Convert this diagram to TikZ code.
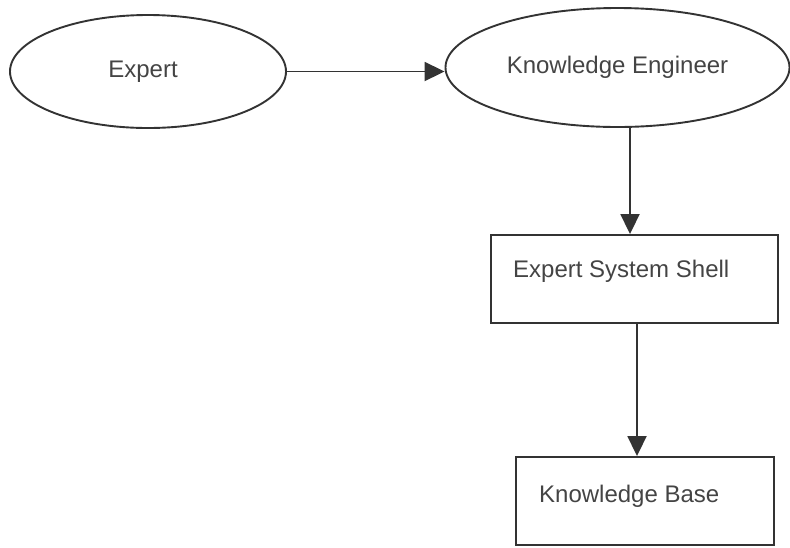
\documentclass[tikz,border=0pt]{standalone}
\usepackage{fontspec}
\setmainfont{Liberation Sans}
\usetikzlibrary{shapes.geometric,arrows.meta}
\definecolor{ink}{HTML}{333333}
\definecolor{txt}{HTML}{444444}
\tikzset{
  shape ell/.style={draw=ink, line width=1.9pt, ellipse, inner sep=0pt, text=txt, font=\fontsize{24}{28}\selectfont},
  boxnode/.style={draw=ink, line width=1.9pt, rectangle, inner sep=0pt},
  lbl/.style={anchor=west, inner sep=0pt, text=txt, font=\fontsize{24}{28}\selectfont},
  arr/.style={draw=ink, line width=1.9pt, -{Triangle[length=20pt,width=19pt]}}
}
\begin{document}
\begin{tikzpicture}[x=1pt,y=-1pt]
\useasboundingbox (0,0) rectangle (790,547);
\node[shape ell, minimum width=276pt, minimum height=113pt] (expert) at (148,71.5) {Expert\hspace*{10pt}};
\node[shape ell, minimum width=344pt, minimum height=119pt] (ke) at (617.5,67.5) {\raisebox{5pt}{Knowledge Engineer}};
\node[boxnode, minimum width=287pt, minimum height=88pt] (ess) at (634.5,279) {};
\node[lbl] (essl) at (513,271) {Expert System Shell};
\node[boxnode, minimum width=258pt, minimum height=88pt] (kb) at (645,501) {};
\node[lbl] (kbl) at (539,496) {Knowledge Base};
\coordinate (c1) at (630,0);
\coordinate (c2) at (637,0);
\draw[arr] (expert.east) -- (expert.east -| ke.west);
\draw[arr] (c1 |- ke.south) -- (c1 |- ess.north);
\draw[arr] (c2 |- ess.south) -- (c2 |- kb.north);
\end{tikzpicture}
\end{document}
